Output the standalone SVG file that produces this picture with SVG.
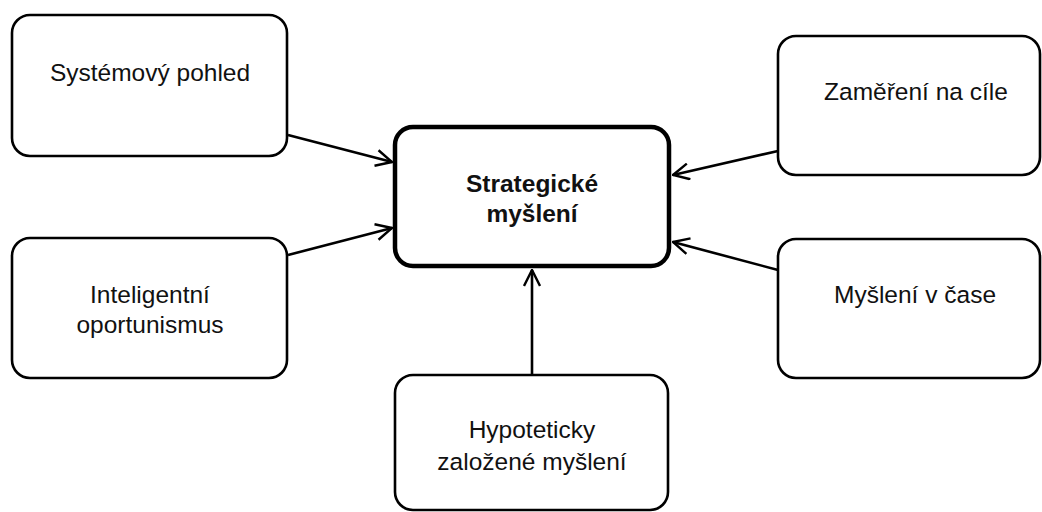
<svg xmlns="http://www.w3.org/2000/svg" width="1042" height="512" viewBox="0 0 1042 512">
<style>
.box{fill:#fff;stroke:#000;stroke-width:2.6}
.main{fill:#fff;stroke:#000;stroke-width:4.5}
.t{font-family:"Liberation Sans",Arial,sans-serif;font-size:24.5px;fill:#111;text-anchor:middle}
.b{font-weight:bold;font-size:24.5px}
.c{stroke:#000;stroke-width:2.6;fill:none}
</style>
<defs>
<marker id="arr" viewBox="0 0 18 18" refX="17" refY="9" markerWidth="18" markerHeight="18" markerUnits="userSpaceOnUse" orient="auto">
<path d="M1,1 L17,9 L1,17" fill="none" stroke="#000" stroke-width="2.4"/>
</marker>
</defs>
<rect width="1042" height="512" fill="#fff"/>
<g id="connectors">
<line class="c" x1="288" y1="135" x2="392" y2="162" marker-end="url(#arr)"/>
<line class="c" x1="288" y1="255" x2="392" y2="228" marker-end="url(#arr)"/>
<line class="c" x1="778" y1="151" x2="673" y2="175" marker-end="url(#arr)"/>
<line class="c" x1="778" y1="270" x2="673" y2="242" marker-end="url(#arr)"/>
<line class="c" x1="532" y1="375" x2="532" y2="270" marker-end="url(#arr)"/>
</g>
<g id="n-system">
<rect class="box" x="12" y="15" width="275" height="141" rx="18"/>
<text class="t" x="150" y="81">Systémový pohled</text>
</g>
<g id="n-oport">
<rect class="box" x="12" y="238" width="275" height="140" rx="18"/>
<text class="t" x="150" y="303">Inteligentní</text>
<text class="t" x="150" y="333">oportunismus</text>
</g>
<g id="n-main">
<rect class="main" x="395" y="127" width="274" height="139" rx="18"/>
<text class="t b" x="532" y="192">Strategické</text>
<text class="t b" x="532" y="222">myšlení</text>
</g>
<g id="n-cile">
<rect class="box" x="778" y="36" width="262" height="139" rx="18"/>
<text class="t" x="916" y="100">Zaměření na cíle</text>
</g>
<g id="n-cas">
<rect class="box" x="778" y="239" width="262" height="139" rx="18"/>
<text class="t" x="915" y="303">Myšlení v čase</text>
</g>
<g id="n-hypo">
<rect class="box" x="395" y="375" width="273" height="135" rx="18"/>
<text class="t" x="532" y="438">Hypoteticky</text>
<text class="t" x="532" y="470">založené myšlení</text>
</g>
</svg>
